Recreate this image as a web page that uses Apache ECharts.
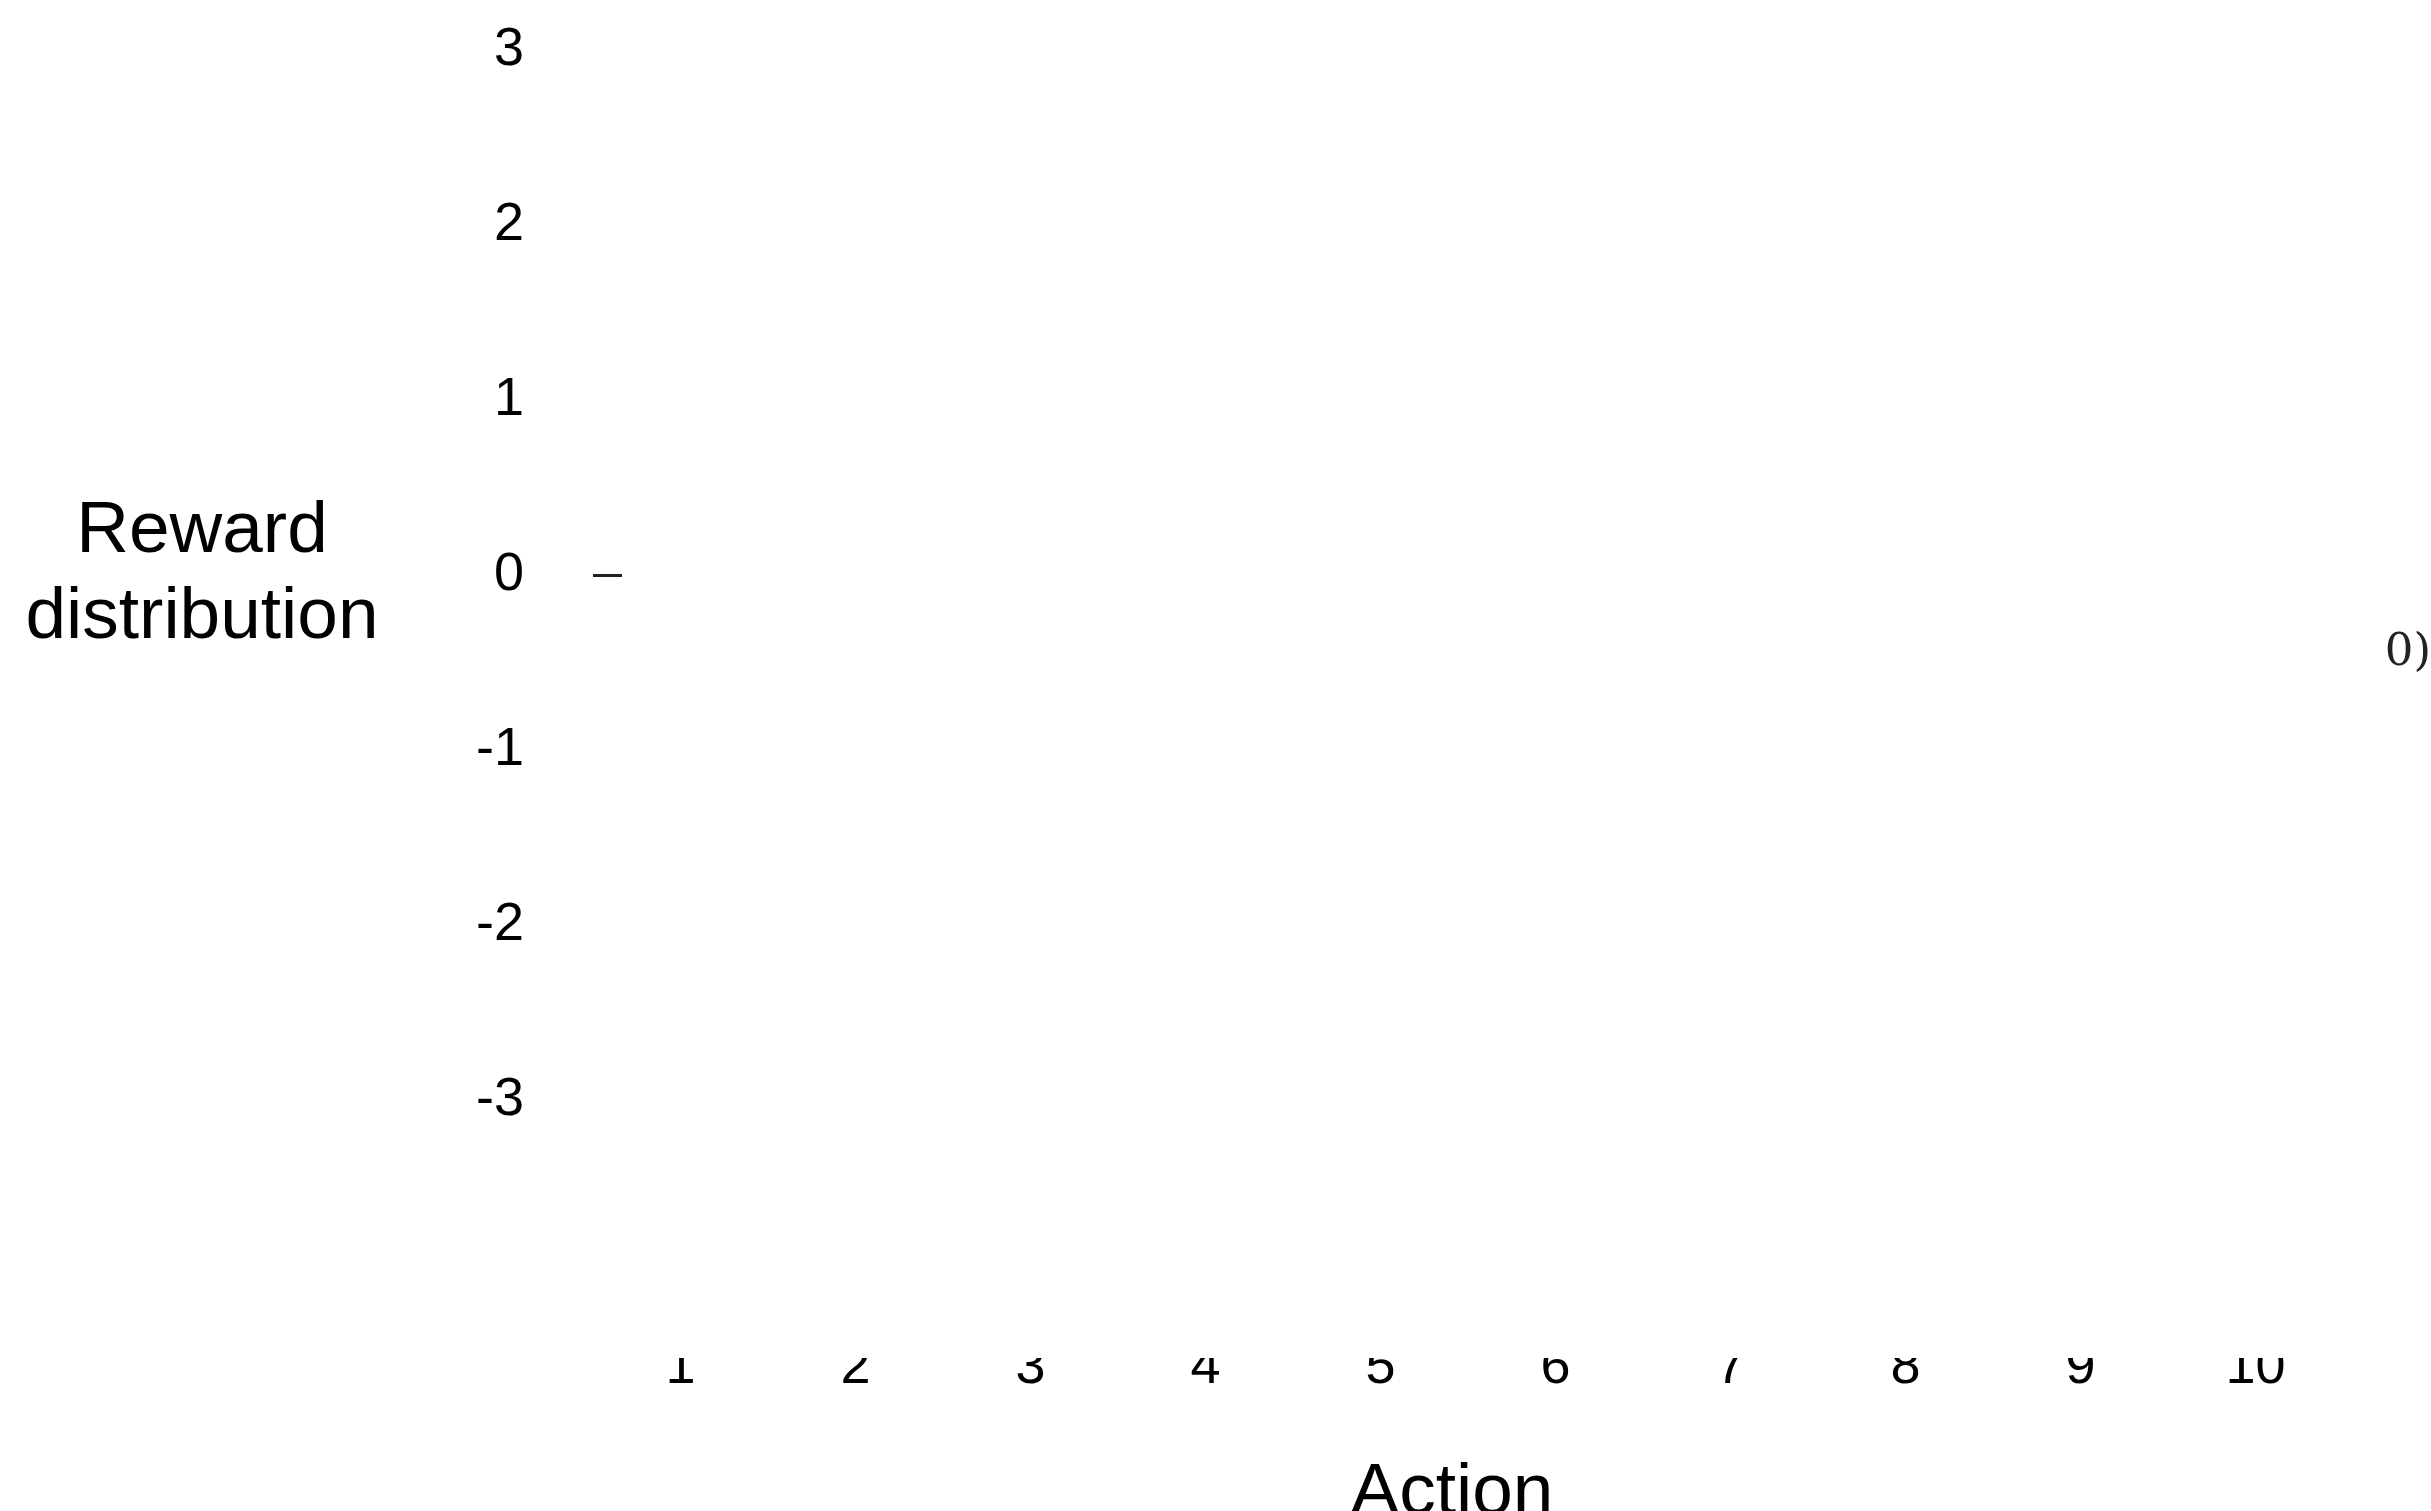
<!DOCTYPE html>
<html>
<head>
<meta charset="utf-8">
<script src="https://cdn.jsdelivr.net/npm/echarts@6/dist/echarts.min.js"></script>
<style>
html,body{margin:0;padding:0;background:#fff;}
#chart{width:2431px;height:1511px;}
</style>
</head>
<body>
<div id="chart"></div>
<script>
const actions = ['1','2','3','4','5','6','7','8','9','10'];
const yTickValues = [-3,-2,-1,0,1,2,3];
const yMarkedTick = [0];
const annotationText = '0)';

const chart = echarts.init(document.getElementById('chart'), null, {renderer:'canvas'});
const font = 'Liberation Sans, Arial, Helvetica, sans-serif';
chart.setOption({
  backgroundColor:'#fff',
  animation:false,
  grid:{left:593, right:88, top:50, bottom:411, outerBoundsMode:'none', containLabel:false},
  xAxis:{
    type:'category', data:actions, boundaryGap:true,
    axisLine:{show:false}, axisTick:{show:false}, splitLine:{show:false},
    axisLabel:{color:'#000', fontFamily:font, fontSize:54, margin:241},
    name:'Action', nameLocation:'middle', nameGap:357,
    nameTextStyle:{color:'#000', fontFamily:font, fontSize:73, padding:[0,32,0,0]}
  },
  yAxis:{
    type:'value', min:-3, max:3,
    axisLine:{show:false}, splitLine:{show:false},
    axisTick:{show:true, inside:true, length:29, customValues:yMarkedTick, lineStyle:{color:'#222', width:3}},
    axisLabel:{color:'#000', fontFamily:font, fontSize:54, margin:69, customValues:yTickValues},
    name:'Reward\ndistribution', nameLocation:'middle', nameRotate:0, nameGap:391,
    nameTextStyle:{color:'#000', fontFamily:font, fontSize:73, lineHeight:86, align:'center', verticalAlign:'middle'}
  },
  graphic:[
    {type:'rect', z:100, shape:{x:630, y:0, width:1750, height:1358}, style:{fill:'#fff'}, silent:true},
    {type:'text', z:101, right:0, top:631, style:{text:annotationText, font:'45px "DejaVu Serif", "Liberation Serif", serif', fill:'#222'}}
  ],
  series:[{type:'scatter', data:[]}]
});
</script>
</body>
</html>
